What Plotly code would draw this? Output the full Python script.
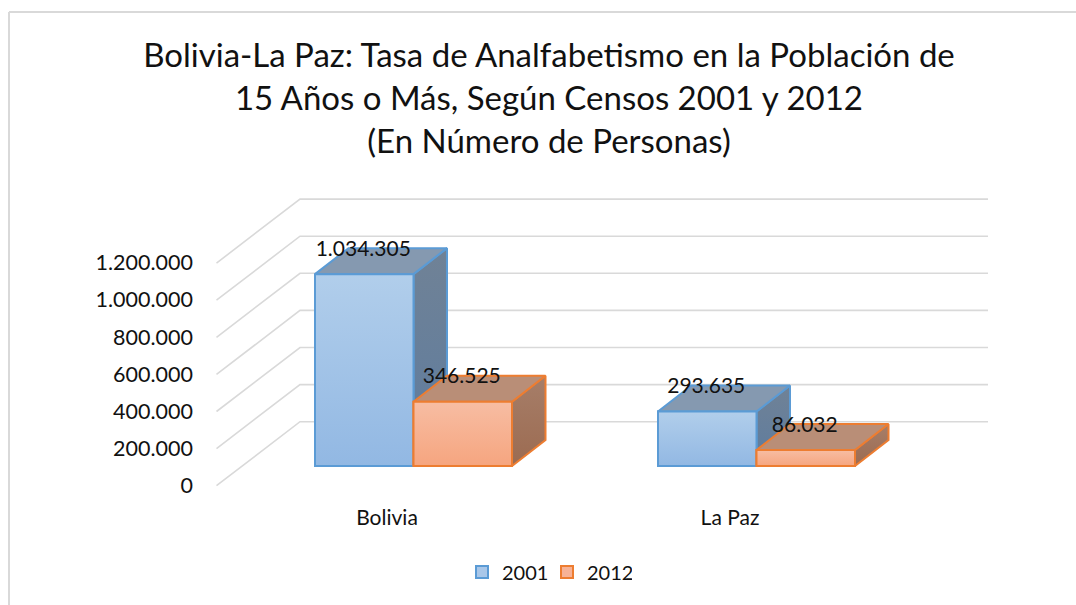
import plotly.graph_objects as go

# ---- data ----
categories = ["Bolivia", "La Paz"]
series_names = ["2001", "2012"]
values_2001 = [1034305, 293635]
values_2012 = [346525, 86032]
axis_ticks = [0, 200000, 400000, 600000, 800000, 1000000, 1200000]
title_lines = ["Bolivia-La Paz: Tasa de Analfabetismo en la Población de",
               "15 Años o Más, Según Censos 2001 y 2012",
               "(En Número de Personas)"]

# ---- layout of the projection (pixels of the 1076x605 page) ----
W, H = 1076, 605
PX_PER_CAT = 343.0
PX_PER_VAL = 37.1 / 200000
ORIGIN_X, ORIGIN_Y = 413.5, 466.0     # where category 0 / value 0 falls
BAR_W = 98.5 / PX_PER_CAT
DEPTH_X = 33.5 / PX_PER_CAT
DEPTH_Y = 26.0 / PX_PER_VAL
WALL_LEFT = (216.5 - ORIGIN_X) / PX_PER_CAT
WALL_BACK = (300.0 - ORIGIN_X) / PX_PER_CAT
WALL_RIGHT = (988.0 - ORIGIN_X) / PX_PER_CAT
FRONT_DROP = 19.7 / PX_PER_VAL
BACK_RISE = 44.3 / PX_PER_VAL
LABEL_RISE = 23.5 / PX_PER_VAL

FONT = "Lato"
GRID = "#D9D9D9"
INK = "#111111"

styles = {
    "2001": dict(line="#5B9BD5", solid="#A9C7E9", top="#B1CEEB", bottom="#92B8E3",
                 cap="#8599B0", side_a="#708296", side_b="#5E7C9F"),
    "2012": dict(line="#ED7D31", solid="#F7B296", top="#F7BDA3", bottom="#F6A57F",
                 cap="#B98E77", side_a="#A67E69", side_b="#9C6B51"),
}

fig = go.Figure()

# back wall, side wall
for t in axis_ticks:
    fig.add_trace(go.Scatter(
        x=[WALL_LEFT, WALL_BACK, WALL_RIGHT],
        y=[t - FRONT_DROP, t + BACK_RISE, t + BACK_RISE],
        mode="lines", line=dict(color=GRID, width=1.6),
        showlegend=False, hoverinfo="skip"))


def add_series(name, vals, offset, xa, ya):
    st = styles[name]
    edge = dict(color=st["line"], width=2)
    common = dict(mode="lines", fill="toself", showlegend=False, hoverinfo="skip",
                  xaxis=xa, yaxis=ya, line=edge)
    fig.add_trace(go.Bar(x=list(range(len(vals))), y=vals, name=name, width=BAR_W, offset=offset,
                         marker=dict(color=st["solid"], line=edge), xaxis=xa, yaxis=ya))
    for i, v in enumerate(vals):
        left = i + offset
        right = left + BAR_W
        # side face
        fig.add_trace(go.Scatter(
            x=[right, right, right + DEPTH_X, right + DEPTH_X, right],
            y=[0, v, v + DEPTH_Y, DEPTH_Y, 0],
            fillgradient=dict(type="vertical", colorscale=[[0, st["side_b"]], [1, st["side_a"]]]),
            **common))
        # top face
        fig.add_trace(go.Scatter(
            x=[left, right, right + DEPTH_X, left + DEPTH_X, left],
            y=[v, v, v + DEPTH_Y, v + DEPTH_Y, v],
            fillcolor=st["cap"], **common))
        # front face with the vertical shading
        fig.add_trace(go.Scatter(
            x=[left, right, right, left, left],
            y=[0, 0, v, v, 0],
            fillgradient=dict(type="vertical", colorscale=[[0, st["bottom"]], [1, st["top"]]]),
            **common))


add_series("2001", values_2001, -BAR_W, "x", "y")
add_series("2012", values_2012, 0.0, "x2", "y2")

# data labels
label_x, label_y, label_t = [], [], []
for vals, offset in ((values_2001, -BAR_W), (values_2012, 0.0)):
    for i, v in enumerate(vals):
        label_x.append(i + offset + BAR_W / 2 - 1 / PX_PER_CAT)
        label_y.append(v + LABEL_RISE)
        label_t.append(f"{v:,}".replace(",", "."))
fig.add_trace(go.Scatter(x=label_x, y=label_y, text=label_t, mode="text",
                         textfont=dict(family=FONT, size=21, color=INK),
                         textposition="middle center", showlegend=False, hoverinfo="skip",
                         xaxis="x2", yaxis="y2"))

# carrier for the two labelled axes
fig.add_trace(go.Scatter(x=[0, 1], y=[0, 0], mode="markers", marker=dict(opacity=0, size=1),
                         showlegend=False, hoverinfo="skip", xaxis="x3", yaxis="y3"))

x_range = [-ORIGIN_X / PX_PER_CAT, (W - ORIGIN_X) / PX_PER_CAT]
y_range = [(ORIGIN_Y - H) / PX_PER_VAL, ORIGIN_Y / PX_PER_VAL]
hidden = dict(visible=False, fixedrange=True)
LABEL_X0 = 387.0

fig.update_layout(
    width=W, height=H, autosize=False,
    margin=dict(l=0, r=0, t=0, b=0, autoexpand=False),
    paper_bgcolor="white", plot_bgcolor="rgba(0,0,0,0)",
    separators=",.",
    font=dict(family=FONT, color=INK),
    xaxis=dict(domain=[0, 1], range=x_range, **hidden),
    yaxis=dict(domain=[0, 1], range=y_range, **hidden),
    xaxis2=dict(overlaying="x", range=x_range, **hidden),
    yaxis2=dict(overlaying="y", range=y_range, **hidden),
    xaxis3=dict(domain=[0, 1], range=[-LABEL_X0 / PX_PER_CAT, (W - LABEL_X0) / PX_PER_CAT],
                anchor="free", position=(H - 503) / H, tickmode="array",
                tickvals=list(range(len(categories))), ticktext=categories,
                showgrid=False, zeroline=False, showline=False, ticks="",
                tickfont=dict(family=FONT, size=21, color=INK)),
    yaxis3=dict(domain=[(H - 485.7) / H, (H - 262.7) / H], range=[0, 1200000],
                anchor="free", position=193 / W, tickmode="array", tickvals=axis_ticks,
                tickformat=",d", showgrid=False, zeroline=False, showline=False, ticks="",
                tickfont=dict(family=FONT, size=21.5, color=INK)),
    title=dict(text="<br>".join(title_lines), x=549 / W, xanchor="center",
               y=1 - 67 / H, yanchor="top",
               font=dict(family=FONT, size=33, color=INK)),
    legend=dict(orientation="h", x=547 / W, xanchor="center", y=(H - 572) / H, yanchor="middle",
                entrywidth=40, entrywidthmode="pixels",
                font=dict(family=FONT, size=20, color=INK), bgcolor="rgba(0,0,0,0)"),
    shapes=[
        dict(type="line", xref="paper", yref="paper", x0=9 / W, x1=1, y0=1 - 12 / H, y1=1 - 12 / H,
             line=dict(color=GRID, width=2)),
        dict(type="line", xref="paper", yref="paper", x0=9 / W, x1=9 / W, y0=0, y1=1 - 12 / H,
             line=dict(color=GRID, width=2)),
    ],
    showlegend=True,
)

fig.write_html("out.html", config={"displayModeBar": False},
               post_script="document.body.style.margin='0';document.documentElement.style.overflow='hidden';")
